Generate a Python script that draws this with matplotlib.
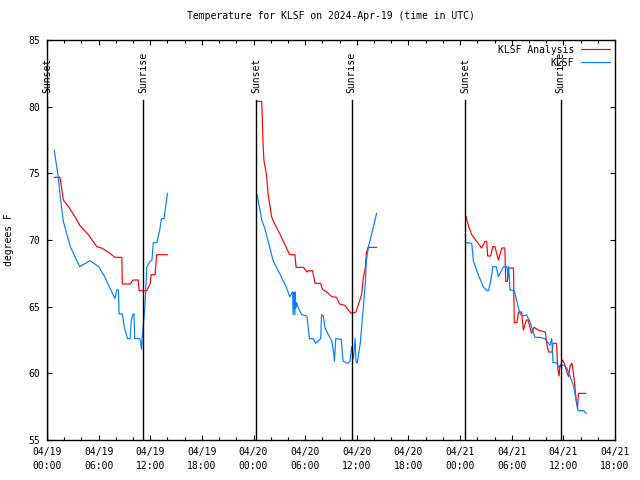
import numpy as np
import matplotlib
matplotlib.use("Agg")
import matplotlib.pyplot as plt
from matplotlib.ticker import MultipleLocator

# hours since 2024-04-19 00:00 UTC
ana_h1 = [0.85, 1.5, 1.6, 1.9, 2.5, 3.25, 3.8, 4.8, 5.8, 6.35, 7.1, 7.9, 8.7, 8.75, 9.65, 10.0, 10.6, 10.7, 11.6, 12.0, 12.1, 12.55, 12.75, 14.0]
ana_t1 = [74.7, 74.7, 74.3, 73.0, 72.5, 71.75, 71.1, 70.4, 69.5, 69.4, 69.1, 68.7, 68.7, 66.7, 66.7, 67.0, 67.0, 66.2, 66.2, 66.75, 67.4, 67.4, 68.9, 68.9]
obs_h1 = [0.85, 1.3, 1.6, 1.9, 2.7, 3.8, 5.0, 6.0, 6.7, 7.9, 8.1, 8.3, 8.37, 8.75, 9.0, 9.35, 9.65, 9.8, 10.0, 10.1, 10.2, 10.8, 11.0, 11.05, 11.2, 11.4, 11.6, 12.0, 12.2, 12.35, 12.75, 13.1, 13.3, 13.6, 14.0]
obs_t1 = [76.7, 74.75, 72.9, 71.4, 69.5, 68.0, 68.45, 68.0, 67.25, 65.6, 66.25, 66.25, 64.45, 64.45, 63.4, 62.6, 62.6, 64.0, 64.45, 64.45, 62.6, 62.6, 61.8, 62.6, 63.6, 65.3, 68.0, 68.4, 68.5, 69.8, 69.8, 70.75, 71.6, 71.6, 73.5]

ana_h2 = [24.37, 24.95, 25.0, 25.1, 25.2, 25.5, 25.7, 26.1, 26.3, 27.1, 28.05, 28.2, 28.8, 28.95, 29.8, 30.2, 30.4, 30.85, 31.15, 31.8, 32.0, 32.5, 33.1, 33.65, 34.0, 34.6, 35.2, 35.4, 35.9, 36.2, 36.55, 36.75, 37.0, 37.1, 37.3, 38.3]
ana_t2 = [80.4, 80.4, 79.4, 77.25, 76.0, 74.9, 73.4, 71.75, 71.4, 70.4, 69.1, 68.9, 68.9, 67.95, 67.95, 67.6, 67.7, 67.7, 66.75, 66.75, 66.3, 66.1, 65.75, 65.7, 65.2, 65.1, 64.6, 64.5, 64.6, 65.2, 65.9, 67.1, 68.0, 69.0, 69.45, 69.45]
obs_h2 = [24.37, 24.75, 24.95, 25.3, 25.7, 26.3, 27.1, 27.85, 28.2, 28.55, 28.6, 28.7, 28.8, 28.85, 28.9, 29.0, 29.2, 29.6, 30.2, 30.5, 30.95, 31.2, 31.8, 31.9, 32.1, 32.3, 33.1, 33.3, 33.4, 33.55, 34.2, 34.4, 35.0, 35.2, 35.4, 35.6, 35.8, 35.9, 36.05, 36.4, 36.75, 37.0, 37.1, 37.35, 37.7, 38.3]
obs_t2 = [73.5, 72.25, 71.5, 70.9, 69.9, 68.4, 67.4, 66.4, 65.75, 66.1, 64.4, 66.1, 64.4, 66.1, 64.9, 65.3, 64.9, 64.4, 64.3, 62.6, 62.6, 62.25, 62.6, 64.4, 64.3, 63.4, 62.4, 61.6, 60.9, 62.6, 62.55, 60.9, 60.75, 60.9, 62.0, 61.1, 62.6, 60.9, 60.75, 62.25, 64.9, 66.9, 68.4, 69.5, 70.4, 72.0]

ana_h3 = [48.7, 48.95, 49.35, 49.7, 50.1, 50.5, 50.9, 51.1, 51.2, 51.55, 51.8, 52.05, 52.45, 52.85, 53.2, 53.3, 53.5, 53.6, 54.2, 54.3, 54.6, 54.8, 55.15, 55.35, 55.7, 55.9, 56.3, 56.6, 57.1, 57.9, 58.1, 58.3, 58.7, 58.8, 59.2, 59.35, 59.5, 59.6, 59.7, 59.9, 60.2, 60.4, 60.6, 60.8, 61.0, 61.25, 61.5, 61.65, 61.75, 62.6]
ana_t3 = [71.75, 71.1, 70.4, 70.1, 69.75, 69.4, 69.9, 69.9, 68.8, 68.8, 69.5, 69.5, 68.5, 69.4, 69.4, 66.9, 66.9, 67.9, 67.9, 63.8, 63.8, 64.6, 64.6, 63.25, 64.0, 64.0, 63.0, 63.45, 63.25, 63.1, 62.1, 61.6, 61.6, 62.25, 62.25, 60.4, 59.8, 60.6, 60.6, 61.0, 60.6, 60.1, 59.75, 60.6, 60.75, 59.6, 57.9, 57.4, 58.5, 58.5]
obs_h3 = [48.7, 49.35, 49.55, 50.1, 50.7, 51.1, 51.3, 51.55, 51.8, 52.2, 52.45, 53.05, 53.45, 53.55, 53.65, 53.8, 54.3, 54.6, 54.9, 55.05, 55.35, 55.7, 56.1, 56.7, 57.3, 57.85, 58.1, 58.45, 58.65, 58.75, 58.8, 59.2, 59.5, 59.8, 60.05, 60.4, 60.8, 61.2, 61.6, 61.7, 62.35, 62.65]
obs_t3 = [69.8, 69.75, 68.4, 67.4, 66.5, 66.2, 66.2, 66.9, 68.0, 68.0, 67.25, 68.0, 68.0, 67.1, 68.0, 66.25, 66.2, 65.4, 64.6, 64.4, 64.3, 64.4, 63.9, 62.7, 62.7, 62.6, 62.4, 62.1, 62.6, 61.4, 60.8, 60.8, 60.4, 60.6, 60.6, 60.4, 59.75, 59.0, 57.6, 57.2, 57.2, 57.0]

sunset_h = [0.05, 24.3, 48.6]
sunrise_h = [11.2, 35.4, 59.7]

xtick_h = [0, 6, 12, 18, 24, 30, 36, 42, 48, 54, 60, 66]
xtick_labels = ["04/19\n00:00", "04/19\n06:00", "04/19\n12:00", "04/19\n18:00",
                "04/20\n00:00", "04/20\n06:00", "04/20\n12:00", "04/20\n18:00",
                "04/21\n00:00", "04/21\n06:00", "04/21\n12:00", "04/21\n18:00"]
yticks = [55, 60, 65, 70, 75, 80, 85]

FONT = "DejaVu Sans Mono"
FS = 7.0

fig = plt.figure(figsize=(6.4, 4.8), dpi=100)
ax = fig.add_axes([47/640, 40/480, 568/640, 400/480])
ax.set_xlim(0, 66)
ax.set_ylim(55, 85)

red = "#ff0000"
blue = "#0080ff"
lw = 0.85

def joined(*pairs):
    xs, ys = [], []
    for h, t in pairs:
        xs += list(h) + [np.nan]
        ys += list(t) + [np.nan]
    return xs, ys

ax_x, ax_y = joined((ana_h1, ana_t1), (ana_h2, ana_t2), (ana_h3, ana_t3))
ob_x, ob_y = joined((obs_h1, obs_t1), (obs_h2, obs_t2), (obs_h3, obs_t3))

la, = ax.plot(ax_x, ax_y, color=red, lw=lw, label="KLSF Analysis")
lo, = ax.plot(ob_x, ob_y, color=blue, lw=lw, label="KLSF")

for h in sunset_h:
    ax.plot([h, h], [55, 80.5], color="black", lw=1.0)
    ax.text(h, 81.05, "Sunset", rotation=90, rotation_mode="anchor", ha="left", va="center",
            fontsize=FS, family=FONT)
for h in sunrise_h:
    ax.plot([h, h], [55, 80.5], color="black", lw=1.0)
    ax.text(h, 81.05, "Sunrise", rotation=90, rotation_mode="anchor", ha="left", va="center",
            fontsize=FS, family=FONT)

ax.set_xticks(xtick_h)
ax.set_xticklabels(xtick_labels, fontsize=FS, family=FONT, linespacing=1.45)
ax.xaxis.set_minor_locator(MultipleLocator(2))
ax.set_yticks(yticks)
ax.set_yticklabels([str(v) for v in yticks], fontsize=FS, family=FONT)

ax.tick_params(axis="both", which="major", direction="in", length=3.3, width=0.8,
               top=True, right=True, pad=5)
ax.tick_params(axis="x", which="minor", direction="in", length=2.0, width=0.8, top=True)
for s in ax.spines.values():
    s.set_linewidth(1.0)

ax.set_ylabel("degrees F", fontsize=FS, family=FONT, labelpad=10)
ax.set_title("Temperature for KLSF on 2024-Apr-19 (time in UTC)", fontsize=FS,
             family=FONT, pad=15)

leg = ax.legend(handles=[la, lo], loc="upper right", frameon=False, markerfirst=False,
                prop={"family": FONT, "size": FS}, handlelength=3.0, handletextpad=0.7,
                labelspacing=0.3, borderaxespad=0.5, borderpad=0.0,
                bbox_to_anchor=(1.0, 1.0))
for t in leg.get_texts():
    t.set_ha("right")

fig.savefig("out.png", dpi=100)
